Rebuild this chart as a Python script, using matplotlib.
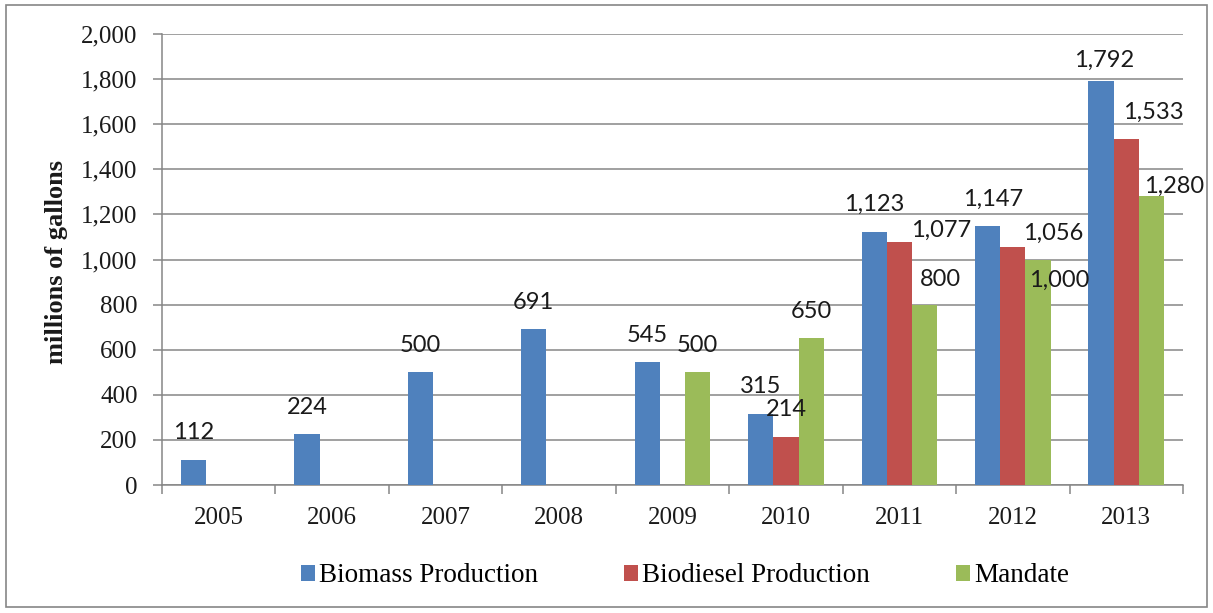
import numpy as np
import matplotlib
matplotlib.use("Agg")
import matplotlib.pyplot as plt
import matplotlib.patches as patches
from matplotlib.ticker import FuncFormatter

# chart values
years = ['2005', '2006', '2007', '2008', '2009', '2010', '2011', '2012', '2013']
biomass = [112, 224, 500, 691, 545, 315, 1123, 1147, 1792]
biodiesel = [None, None, None, None, None, 214, 1077, 1056, 1533]
mandate = [None, None, None, None, 500, 650, 800, 1000, 1280]

names = ['Biomass Production', 'Biodiesel Production', 'Mandate']
colors = ['#4F81BD', '#C0504D', '#9BBB59']

# hand-moved data labels in the original (pixels: right, up)
label_shift = {
    ('Biodiesel Production', '2011'): (42, -15),
    ('Mandate', '2011'): (16, -2),
    ('Biomass Production', '2012'): (5, 0),
    ('Biodiesel Production', '2012'): (40, -13),
    ('Mandate', '2012'): (21, -48),
    ('Biomass Production', '2013'): (3, -6),
    ('Biodiesel Production', '2013'): (27, 0),
    ('Mandate', '2013'): (23, -17),
}

serif = 'Liberation Serif'
grey = '#868686'
px = 0.72  # points per pixel at 100 dpi

fig = plt.figure(figsize=(12.13, 6.13), dpi=100)
ax = fig.add_axes([162 / 1213, 1 - 485 / 613, (1183 - 162) / 1213, (485 - 34) / 613])

x = np.arange(len(years))
w = 1 / 4.5
handles = []
for k, (name, vals, col) in enumerate(zip(names, [biomass, biodiesel, mandate], colors)):
    idx = [i for i, v in enumerate(vals) if v is not None]
    hs = [vals[i] for i in idx]
    xs = x[idx] + (k - 1) * w
    bars = ax.bar(xs, hs, width=w, color=col, edgecolor='none', zorder=3, label=name)
    handles.append(bars)
    for xi, h, i in zip(xs, hs, idx):
        dx, dy = label_shift.get((name, years[i]), (0, 0))
        ax.annotate(f'{h:,}', (xi, h), xytext=(dx * px, (27 + dy) * px),
                    textcoords='offset points', ha='center', va='center',
                    fontsize=17, family='Lato', color='#1a1a1a', zorder=4)

ax.set_xlim(-0.5, len(years) - 0.5)
ax.set_ylim(0, 2000)
ax.set_yticks(np.arange(0, 2001, 200))
ax.yaxis.set_major_formatter(FuncFormatter(lambda v, p: f'{int(v):,}'))
ax.set_xticks(x)
ax.set_xticklabels(years)
ax.set_xticks(np.arange(-0.5, len(years), 1), minor=True)

ax.grid(axis='y', color=grey, lw=1.1, zorder=0)
for s in ['top', 'right']:
    ax.spines[s].set_visible(False)
for s in ['left', 'bottom']:
    ax.spines[s].set_color(grey)
    ax.spines[s].set_linewidth(1.1)

ax.tick_params(axis='x', which='major', length=0, pad=16)
ax.tick_params(axis='x', which='minor', length=6.5, color=grey, width=1.1, direction='out')
ax.tick_params(axis='y', length=6.5, color=grey, width=1.1, pad=11)
for lab in ax.get_xticklabels() + ax.get_yticklabels():
    lab.set_fontfamily(serif)
    lab.set_fontsize(18)
    lab.set_color('#1a1a1a')

fig.text(56 / 1213, 1 - 262 / 613, 'millions of gallons', rotation=90, ha='center', va='center',
         fontsize=19, fontweight='bold', family=serif, color='#1a1a1a')

fig.legend(handles=handles, labels=names, loc='center', bbox_to_anchor=(685 / 1213, 1 - 576 / 613),
           ncol=3, frameon=False, prop={'family': serif, 'size': 19.5},
           handlelength=0.5, handleheight=0.5, handletextpad=0.15, columnspacing=3.2)

fig.add_artist(patches.Rectangle((6 / 1213, 1 - 607 / 613), (1207 - 6) / 1213, (607 - 5) / 613,
                                 transform=fig.transFigure, fill=False, edgecolor=grey, lw=1.2))

fig.savefig('out.png', dpi=100)
